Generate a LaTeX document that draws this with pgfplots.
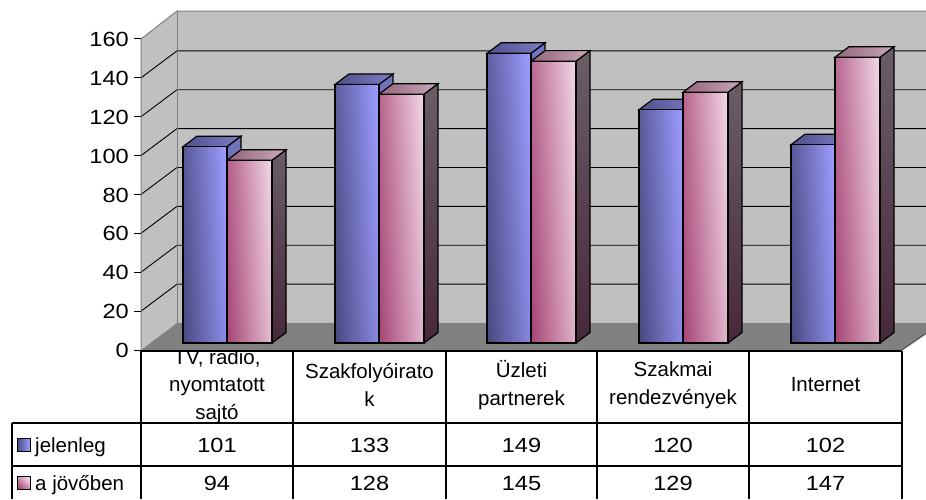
\documentclass[border=0pt]{standalone}
\usepackage{pgfplots}
\pgfplotsset{compat=1.18}
\usepackage{pgfplotstable}
\usepackage{fontspec}
\setmainfont{Liberation Sans}

\definecolor{bluedark}{HTML}{4A4A82}
\definecolor{bluemid}{HTML}{8080DA}
\definecolor{bluelight}{HTML}{9C9CFF}
\definecolor{bluetopA}{HTML}{50508C}
\definecolor{bluetopB}{HTML}{7C7CC4}
\definecolor{bluesideA}{HTML}{4C4C88}
\definecolor{bluesideB}{HTML}{7474BC}
\definecolor{pinkdark}{HTML}{A84878}
\definecolor{pinkmid}{HTML}{D0A0BC}
\definecolor{pinklight}{HTML}{F0D4E4}
\definecolor{pinktopA}{HTML}{94647C}
\definecolor{pinktopB}{HTML}{C8A8B8}
\definecolor{pinksideA}{HTML}{48283A}
\definecolor{pinksideB}{HTML}{6A5E66}
\definecolor{wallc}{HTML}{C0C0C0}
\definecolor{floorc}{HTML}{808080}

\pgfplotstableread{
x jelen jovo
0 101 94
1 133 128
2 149 145
3 120 129
4 102 147
}\datatable

\tikzset{
  bluefront/.style={draw=black, line width=1.2pt, bottom color=bluedark, middle color=bluemid, top color=bluelight, shading angle=-87},
  pinkfront/.style={draw=black, line width=1.2pt, bottom color=pinkdark, middle color=pinkmid, top color=pinklight, shading angle=-87},
  bluetop/.style={draw=black, line width=1.2pt, left color=bluetopA, right color=bluetopB},
  pinktop/.style={draw=black, line width=1.2pt, left color=pinktopA, right color=pinktopB},
  blueside/.style={draw=black, line width=1.2pt, bottom color=bluesideA, top color=bluesideB},
  pinkside/.style={draw=black, line width=1.2pt, bottom color=pinksideA, top color=pinksideB},
}
\newcommand\fs{\fontsize{20.5}{27.5}\selectfont}
\newcommand\num[1]{\scalebox{1.15}[1]{#1}}

\begin{document}
\begin{tikzpicture}
\path[use as bounding box] (0pt,0pt) rectangle (926pt,-499pt);
\begin{scope}[x=1pt,y=-1pt]
  \node[font=\fs, align=center] at (217,386.5) {TV, rádió,\\nyomtatott\\sajtó};
  \node[font=\fs, align=center] at (369.5,385) {Szakfolyóirato\\k};
  \node[font=\fs, align=center] at (521.5,385) {Üzleti\\partnerek};
  \node[font=\fs, align=center] at (673,385) {Szakmai\\rendezvények};
  \node[font=\fs, align=center] at (825.5,385) {Internet};
  \fill[wallc] (177,11) -- (926,11) -- (926,323) -- (177,323) -- cycle;
  \fill[wallc] (141,39) -- (177,11) -- (177,323) -- (141,350) -- cycle;
  \fill[floorc] (141,350) -- (177,323) -- (926,323) -- (926,333.5) -- (902,350) -- cycle;
  \foreach \v in {20,40,...,140}{
    \draw[black, line width=0.9pt] (141,350-1.944*\v) -- (177,323-1.944*\v) -- (926,323-1.944*\v);
  }
  \draw[floorc, line width=1pt] (141,350) -- (141,39) -- (177,11) -- (926,11);
  \draw[floorc, line width=1pt] (177,11) -- (177,323);
  \draw[gray!60!black, line width=1pt] (902,350) -- (926,333.5);
  \foreach \v in {0,20,...,160}{
    \draw[black, line width=1pt] (134,350-1.944*\v) -- (141,350-1.944*\v);
    \node[font=\fs, anchor=east, inner sep=0pt] at (129,350.5-1.944*\v) {\num{\v}};
  }
\end{scope}

\begin{axis}[
  at={(-1pt,-352.72pt)}, anchor=south west,
  x=152pt, y=1.944pt,
  xmin=-1.5, xmax=4.6, ymin=-5, ymax=170,
  axis lines=none, clip=false, enlargelimits=false,
]
\pgfplotsinvokeforeach{0,1,2,3,4}{%
  \pgfplotstablegetelem{#1}{jelen}\of\datatable \let\vA\pgfplotsretval
  \pgfplotstablegetelem{#1}{jovo}\of\datatable \let\vB\pgfplotsretval
  \pgfmathsetmacro\xa{#1-0.28947}%
  \pgfmathsetmacro\xc{#1+0.29605}%
  \edef\tmp{%
    \noexpand\path[blueside] (axis cs:#1,0) -- ([shift={(14pt,10.5pt)}]axis cs:#1,0) -- ([shift={(14pt,10.5pt)}]axis cs:#1,\vA) -- (axis cs:#1,\vA) -- cycle;
    \noexpand\path[bluetop] (axis cs:\xa,\vA) -- (axis cs:#1,\vA) -- ([shift={(14pt,10.5pt)}]axis cs:#1,\vA) -- ([shift={(14pt,10.5pt)}]axis cs:\xa,\vA) -- cycle;
    \noexpand\path[pinkside] (axis cs:\xc,0) -- ([shift={(14pt,10.5pt)}]axis cs:\xc,0) -- ([shift={(14pt,10.5pt)}]axis cs:\xc,\vB) -- (axis cs:\xc,\vB) -- cycle;
    \noexpand\path[pinktop] (axis cs:#1,\vB) -- (axis cs:\xc,\vB) -- ([shift={(14pt,10.5pt)}]axis cs:\xc,\vB) -- ([shift={(14pt,10.5pt)}]axis cs:#1,\vB) -- cycle;
  }\tmp
  \addplot[ybar, bar width=44pt, bar shift=-22pt, bluefront, restrict x to domain=#1:#1] table[x=x, y=jelen] {\datatable};
  \addplot[ybar, bar width=45pt, bar shift=22.5pt, pinkfront, restrict x to domain=#1:#1] table[x=x, y=jovo] {\datatable};
}
\end{axis}

\begin{scope}[x=1pt,y=-1pt]
  \draw[black, line width=1.2pt] (141,351) -- (902,351);
  \draw[black, line width=1.2pt] (12,423) -- (902,423);
  \draw[black, line width=1.2pt] (12,466) -- (902,466);
  \foreach \x in {141,293,446,597,749,902}{
    \draw[black, line width=1.2pt] (\x,351) -- (\x,499);
  }
  \draw[black, line width=1.2pt] (12,423) -- (12,499);
  \draw[black, line width=0.8pt, left color=bluedark, right color=bluelight] (17,438.5) rectangle (30,451.5);
  \draw[black, line width=0.8pt, bottom color=pinkdark, middle color=pinkmid, top color=pinklight, shading angle=-45] (17,476.5) rectangle (30,489.5);
  \node[font=\fs, anchor=base west, inner sep=0pt] at (35,452) {jelenleg};
  \node[font=\fs, anchor=base west, inner sep=0pt] at (35,490) {a jövőben};
  \foreach \x/\p/\q in {217/101/94, 369.5/133/128, 521.5/149/145, 673/120/129, 825.5/102/147}{
    \node[font=\fs, anchor=base, inner sep=0pt] at (\x,452) {\num{\p}};
    \node[font=\fs, anchor=base, inner sep=0pt] at (\x,490) {\num{\q}};
  }
\end{scope}
\end{tikzpicture}
\end{document}
